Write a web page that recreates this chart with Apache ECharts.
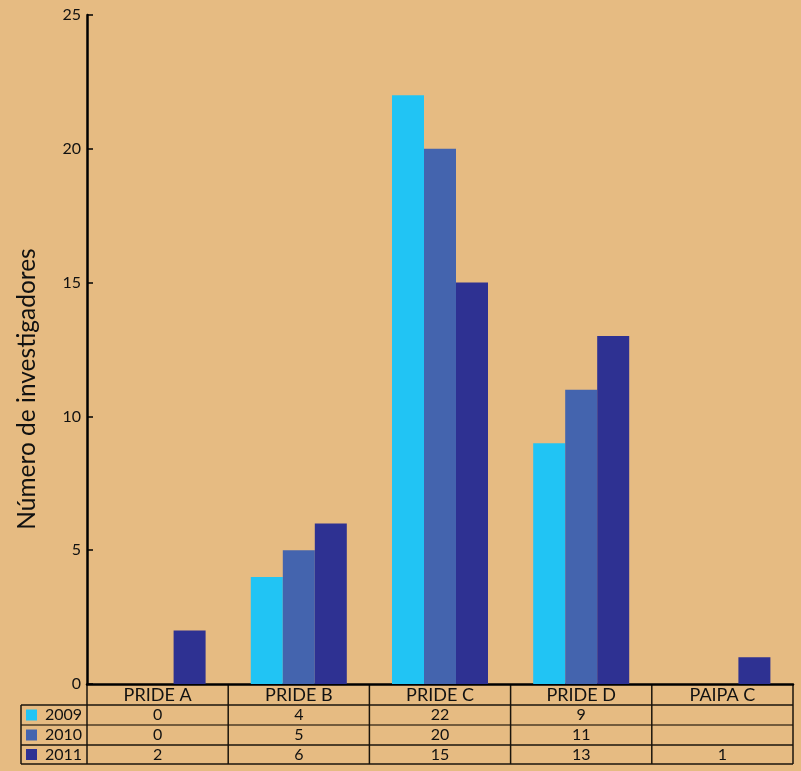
<!DOCTYPE html>
<html><head><meta charset="utf-8">
<script src="https://cdn.jsdelivr.net/npm/echarts@6/dist/echarts.min.js"></script>
<style>html,body{margin:0;padding:0;background:#E6BB82;}#c{width:801px;height:771px;}</style>
</head><body><div id="c"></div>
<script>
const categories = ['PRIDE A','PRIDE B','PRIDE C','PRIDE D','PAIPA C'];
const seriesNames = ['2009','2010','2011'];
const values2009 = [0, 4, 22, 9, null];
const values2010 = [0, 5, 20, 11, null];
const values2011 = [2, 6, 15, 13, 1];
const colors = ['#21C4F4','#4464AE','#2E3192'];
const yTicks = [0, 5, 10, 15, 20, 25];
const yTitle = 'Número de investigadores';
const FONT = 'Lato, "Open Sans", sans-serif';

const allValues = [values2009, values2010, values2011];
const chart = echarts.init(document.getElementById('c'));
const grid = {left: 87, right: 8, top: 15, bottom: 87};
chart.setOption({
  backgroundColor: '#E6BB82',
  animation: false,
  grid: grid,
  xAxis: {
    type: 'category', data: categories,
    axisLine: {lineStyle: {color: '#000', width: 2.5}},
    axisTick: {show: false},
    axisLabel: {color: '#111', fontSize: 18, fontFamily: FONT, margin: 11, verticalAlign: 'middle', interval: 0}
  },
  yAxis: {
    type: 'value', min: yTicks[0], max: yTicks[yTicks.length-1], interval: 5,
    axisLine: {show: true, lineStyle: {color: '#000', width: 2.5}},
    axisTick: {show: true, inside: true, length: 6, lineStyle: {color: '#000', width: 1.5}},
    axisLabel: {color: '#111', fontSize: 16, fontFamily: FONT, margin: 6},
    splitLine: {show: false}
  },
  series: seriesNames.map((n, i) => ({
    name: n, type: 'bar', data: allValues[i], barWidth: 32, barGap: '0%',
    itemStyle: {color: colors[i]}
  }))
});

// Data table under the plot
const yBase = chart.convertToPixel({yAxisIndex: 0}, 0);
const band = (801 - grid.left - grid.right) / categories.length;
const rowTops = [yBase, yBase + 21, yBase + 41, yBase + 61, yBase + 80];
const leftX = 21, axisX = grid.left, rightX = 801 - grid.right;
const g = [];
const lineStyle = {stroke: '#1a140c', lineWidth: 1.5};
const innerStyle = {stroke: '#4d3b24', lineWidth: 1.5};
g.push({type: 'line', shape: {x1: axisX, y1: rowTops[1], x2: rightX, y2: rowTops[1]}, style: lineStyle});
g.push({type: 'line', shape: {x1: leftX, y1: rowTops[1], x2: axisX, y2: rowTops[1]}, style: lineStyle});
g.push({type: 'line', shape: {x1: leftX, y1: rowTops[2], x2: rightX, y2: rowTops[2]}, style: innerStyle});
g.push({type: 'line', shape: {x1: leftX, y1: rowTops[3], x2: rightX, y2: rowTops[3]}, style: lineStyle});
g.push({type: 'line', shape: {x1: leftX, y1: rowTops[4], x2: rightX, y2: rowTops[4]}, style: lineStyle});
g.push({type: 'line', shape: {x1: leftX, y1: rowTops[1], x2: leftX, y2: rowTops[4]}, style: lineStyle});
for (let k = 0; k <= categories.length; k++) {
  const x = axisX + k * band;
  g.push({type: 'line', shape: {x1: x, y1: yBase, x2: x, y2: rowTops[4]}, style: lineStyle});
}
seriesNames.forEach((n, i) => {
  const cy = (rowTops[i+1] + rowTops[i+2]) / 2;
  g.push({type: 'rect', shape: {x: 26, y: cy - 5.5, width: 11, height: 11}, style: {fill: colors[i]}});
  g.push({type: 'text', x: 82, y: cy, style: {text: n, fill: '#111', font: '16px ' + FONT, align: 'right', verticalAlign: 'middle'}});
  categories.forEach((c, j) => {
    const v = allValues[i][j];
    if (v === null) return;
    const cx = chart.convertToPixel({xAxisIndex: 0}, j);
    g.push({type: 'text', x: cx, y: cy, style: {text: String(v), fill: '#111', font: '16px ' + FONT, align: 'center', verticalAlign: 'middle'}});
  });
});
g.push({type: 'text', x: 27, y: 389, rotation: Math.PI / 2,
  style: {text: yTitle, fill: '#111', font: '24.5px ' + FONT, align: 'center', verticalAlign: 'middle'}});
chart.setOption({graphic: g});
</script></body></html>
